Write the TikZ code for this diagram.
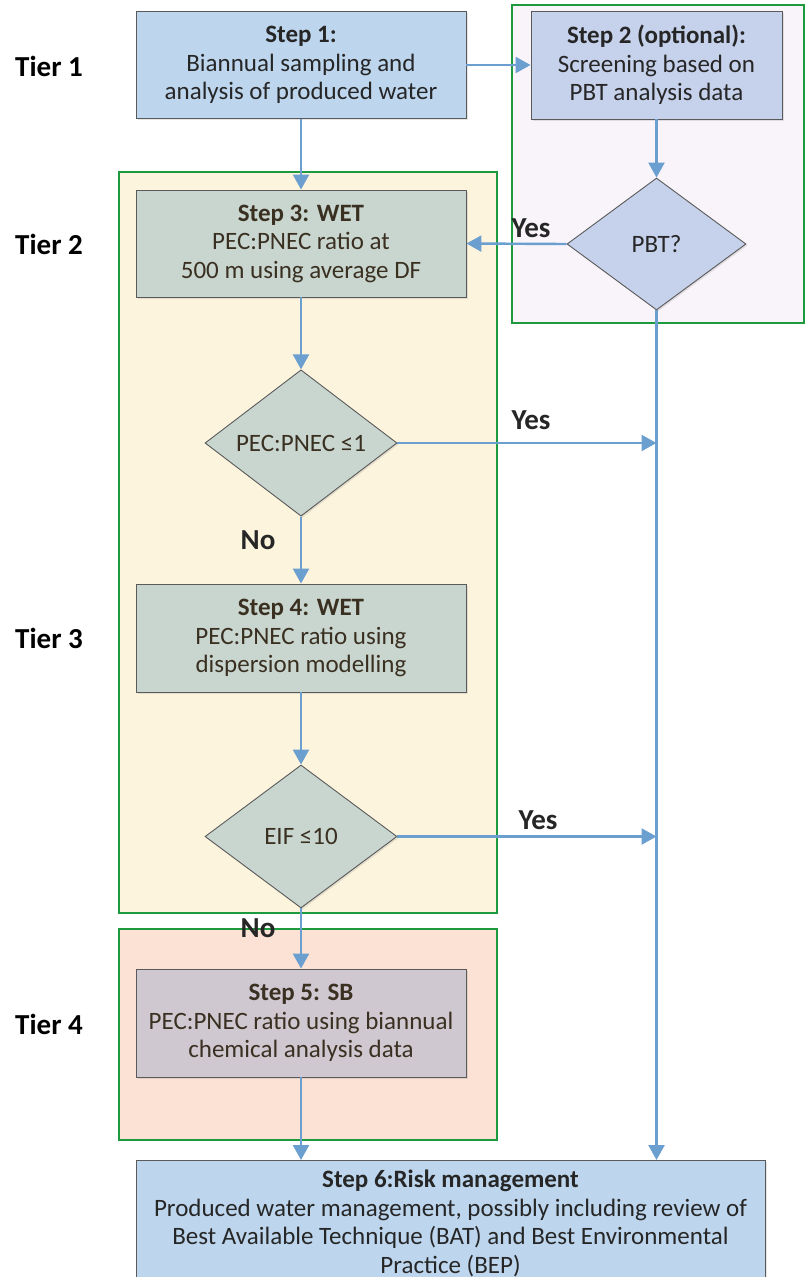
\documentclass[tikz,border=0pt]{standalone}
\usepackage{fontspec}
\setmainfont{Carlito}
\usetikzlibrary{shapes.geometric,arrows.meta,shadows}
\definecolor{bluefill}{HTML}{BDD6EE}
\definecolor{lavfill}{HTML}{C6D1EB}
\definecolor{lavbg}{HTML}{F8F4FA}
\definecolor{yelbg}{HTML}{FDF4DE}
\definecolor{greyfill}{HTML}{C9D6CF}
\definecolor{peachbg}{HTML}{FCE2D5}
\definecolor{mauvefill}{HTML}{D0C8D0}
\definecolor{frame}{HTML}{1E9A3E}
\definecolor{arr}{HTML}{6A9FCF}
\definecolor{edge}{HTML}{5A5A5A}
\definecolor{txt}{HTML}{262626}
\definecolor{txtb}{HTML}{3A3022}
\tikzset{
  stepbox/.style={draw=edge, line width=0.9pt, align=center, inner sep=0pt,
    font=\fontsize{25}{28.5}\selectfont, text=txt,
    drop shadow={opacity=0.2, shadow xshift=1.5pt, shadow yshift=-1.5pt}},
  decbox/.style={draw=edge, line width=0.9pt, shape=diamond, inner sep=0pt, align=center,
    font=\fontsize{25}{28.5}\selectfont, text=txt,
    drop shadow={opacity=0.2, shadow xshift=1.5pt, shadow yshift=-1.5pt}},
  region/.style={draw=frame, line width=1.5pt},
  flow/.style={draw=arr, line width=2.4pt, -{Triangle[length=15pt,width=16pt]}},
  tierlbl/.style={font=\bfseries\fontsize{29}{32}\selectfont, text=black},
  anslbl/.style={font=\bfseries\fontsize{29}{32}\selectfont, text=txt}
}
\begin{document}
\begin{tikzpicture}[x=1pt,y=-1pt]
\useasboundingbox (0,0) rectangle (805,1277);
\fill[white] (0,0) rectangle (805,1277);
% regions
\draw[region, fill=lavbg] (512,5) rectangle (804,323);
\draw[region, fill=yelbg] (119,172) rectangle (497,913);
\draw[region, fill=peachbg] (119,929) rectangle (497,1140);
% tier labels
\node[tierlbl] (t1) at (49,66) {Tier 1};
\node[tierlbl] (t2) at (49,244) {Tier 2};
\node[tierlbl] (t3) at (49,638) {Tier 3};
\node[tierlbl] (t4) at (49,1024) {Tier 4};
% boxes
\node[stepbox, fill=bluefill, minimum width=330pt, minimum height=107pt] (s1) at (301,65)
  {\textbf{Step 1:}\\Biannual sampling and\\analysis of produced water};
\node[stepbox, fill=lavfill, minimum width=251pt, minimum height=108pt] (s2) at (656.5,65)
  {\textbf{Step 2 (optional):}\\Screening based on\\PBT analysis data};
\node[decbox, fill=lavfill, minimum width=179pt, minimum height=132pt] (pbt) at (656.5,244) {PBT?};
\node[stepbox, fill=greyfill, text=txtb, minimum width=330pt, minimum height=107pt] (s3) at (301,243.5)
  {\textbf{Step 3: WET}\\PEC:PNEC ratio at\\500 m using average DF};
\node[decbox, fill=greyfill, text=txtb, minimum width=192pt, minimum height=145pt] (d1) at (301,443) {PEC:PNEC ≤1};
\node[stepbox, fill=greyfill, text=txtb, minimum width=330pt, minimum height=108pt] (s4) at (301,638)
  {\textbf{Step 4: WET}\\PEC:PNEC ratio using\\dispersion modelling};
\node[decbox, fill=greyfill, text=txtb, minimum width=192pt, minimum height=143pt] (d2) at (301,836.5) {EIF ≤10};
\node[stepbox, fill=mauvefill, text=txtb, minimum width=330pt, minimum height=108pt] (s5) at (301,1023)
  {\textbf{Step 5: SB}\\PEC:PNEC ratio using biannual\\chemical analysis data};
\node[stepbox, fill=bluefill, minimum width=629pt, minimum height=126pt, anchor=north] (s6) at (450.5,1160)
  {\textbf{Step 6:Risk management}\\Produced water management, possibly including review of\\Best Available Technique (BAT) and Best Environmental\\Practice (BEP)};
% junction points
\coordinate (j1) at (pbt.south |- d1.east);
\coordinate (j2) at (pbt.south |- d2.east);
\coordinate (j3) at (pbt.south |- s6.north);
\coordinate (j4) at (s5.south |- s6.north);
% connectors
\draw[flow] (s1.east) -- (s2.west);
\draw[flow] (s1.south) -- (s3.north);
\draw[flow] (s2.south) -- (pbt.north);
\draw[flow] (pbt.west) -- (s3.east);
\draw[flow] (pbt.south) -- (j3);
\draw[flow] (s3.south) -- (d1.north);
\draw[flow] (d1.east) -- (j1);
\draw[flow] (d1.south) -- (s4.north);
\draw[flow] (s4.south) -- (d2.north);
\draw[flow] (d2.east) -- (j2);
\draw[flow] (d2.south) -- (s5.north);
\draw[flow] (s5.south) -- (j4);
% answer labels
\node[anslbl] (y0) at (531,228) {Yes};
\node[anslbl] (y1) at (531,420) {Yes};
\node[anslbl] (y2) at (538,820) {Yes};
\node[anslbl] (n1) at (258,540) {No};
\node[anslbl] (n2) at (258,928) {No};
\end{tikzpicture}
\end{document}
